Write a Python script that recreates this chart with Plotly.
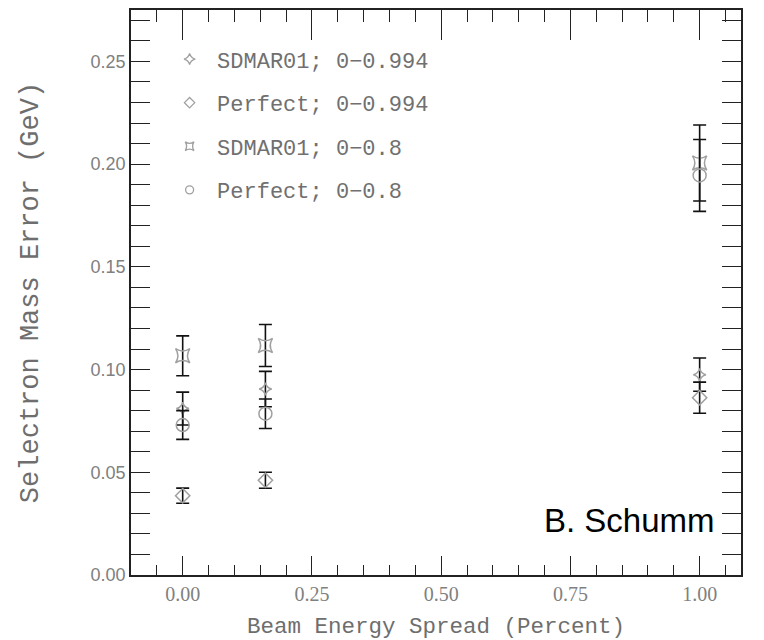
import plotly.graph_objects as go

x_spread = [0.0, 0.16, 1.0]

sdmar_994 = [0.081, 0.0905, 0.0975]
sdmar_994_err = [0.008, 0.0086, 0.0081]
perf_994 = [0.0386, 0.0461, 0.0863]
perf_994_err = [0.0037, 0.0039, 0.0076]
sdmar_08 = [0.1067, 0.1117, 0.2005]
sdmar_08_err = [0.0097, 0.0102, 0.0185]
perf_08 = [0.073, 0.0785, 0.1945]
perf_08_err = [0.007, 0.0072, 0.0175]

names = ["SDMAR01; 0\u22120.994", "Perfect; 0\u22120.994",
         "SDMAR01; 0\u22120.8", "Perfect; 0\u22120.8"]
series = [sdmar_994, perf_994, sdmar_08, perf_08]
errors = [sdmar_994_err, perf_994_err, sdmar_08_err, perf_08_err]
symbols = ["star-diamond-open", "diamond-open", "star-square-open", "circle-open"]
sizes = [9, 11, 13, 13]

MARK = "#a0a0a0"
fig = go.Figure()
for i in range(4):
    fig.add_trace(go.Scatter(
        x=x_spread, y=series[i], mode="markers", name=names[i],
        showlegend=False,
        marker=dict(symbol=symbols[i], size=sizes[i], color=MARK,
                    line=dict(color=MARK, width=1.5)),
        error_y=dict(type="data", array=errors[i], color="#111111",
                     thickness=1.6, width=6.5),
    ))
# legend entries (small symbols, as in the original key)
for i in range(4):
    fig.add_trace(go.Scatter(
        x=[None], y=[None], mode="markers", name=names[i],
        legendgroup=f"g{i}", xaxis="x2",
        marker=dict(symbol=symbols[i], size=8, color=MARK,
                    line=dict(color=MARK, width=1.3)),
    ))

mono = "Liberation Mono"
AX = "#222222"
xr = [-0.1, 1.08]
fig.update_layout(
    width=764, height=640,
    margin=dict(l=131, r=23, t=10, b=65),
    paper_bgcolor="white", plot_bgcolor="white",
    showlegend=True,
    legend=dict(x=0.051, xanchor="left", y=0.950, yanchor="top",
                font=dict(family=mono, size=22, color="#707070"),
                itemwidth=45, tracegroupgap=12, traceorder="grouped",
                bgcolor="rgba(0,0,0,0)", borderwidth=0),
    xaxis=dict(range=xr, tickvals=[0, 0.25, 0.5, 0.75, 1.0],
               ticktext=["0.00", "0.25", "0.50", "0.75", "1.00"],
               automargin=False,
               showgrid=False, zeroline=False, showline=True,
               linecolor=AX, linewidth=1.5, mirror=True,
               ticks="inside", ticklen=19, tickwidth=1.3, tickcolor=AX,
               minor=dict(dtick=0.05, tick0=0, ticks="inside", ticklen=10,
                          tickwidth=1.2, tickcolor=AX, showgrid=False),
               tickfont=dict(family="Liberation Serif", size=20, color="#808080"),
               title=dict(text="Beam Energy Spread (Percent)", standoff=14,
                          font=dict(family=mono, size=22.5, color="#6e6e6e"))),
    xaxis2=dict(range=xr, overlaying="x", side="top", automargin=False,
                tickvals=[0, 0.25, 0.5, 0.75, 1.0], showticklabels=False,
                showgrid=False, zeroline=False, showline=False,
                ticks="inside", ticklen=30, tickwidth=1.3, tickcolor=AX,
                minor=dict(dtick=0.05, tick0=0, ticks="inside", ticklen=12,
                           tickwidth=1.2, tickcolor=AX, showgrid=False)),
    yaxis=dict(range=[0, 0.275], tickvals=[0, 0.05, 0.1, 0.15, 0.2, 0.25],
               ticktext=["0.00", "0.05", "0.10", "0.15", "0.20", "0.25"],
               automargin=False,
               showgrid=False, zeroline=False, showline=True,
               linecolor=AX, linewidth=1.5, mirror="allticks",
               ticks="inside", ticklen=19, tickwidth=1.3, tickcolor=AX,
               minor=dict(dtick=0.01, tick0=0, ticks="inside", ticklen=7,
                          tickwidth=1.2, tickcolor=AX, showgrid=False),
               tickfont=dict(family="Liberation Sans", size=18, color="#808080"),
               title=dict(text="Selectron Mass Error (GeV)", standoff=44,
                          font=dict(family=mono, size=27, color="#6e6e6e"))),
    annotations=[dict(text="B. Schumm", xref="paper", yref="paper",
                      x=0.960, y=0.097, xanchor="right", yanchor="middle",
                      showarrow=False,
                      font=dict(family="Liberation Sans", size=33, color="#000000"))],
)

fig.write_html("out.html")
